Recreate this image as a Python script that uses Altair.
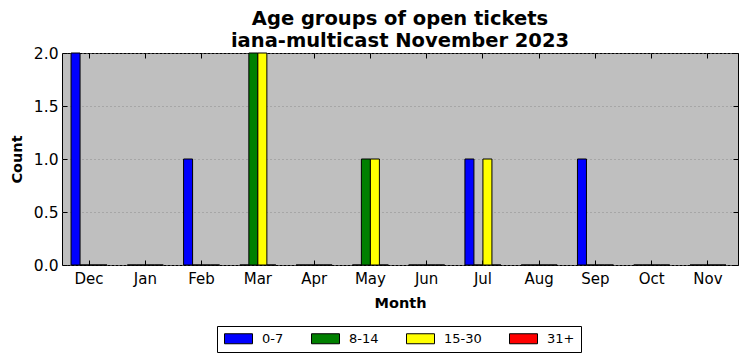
import altair as alt
import pandas as pd

months = ["Dec", "Jan", "Feb", "Mar", "Apr", "May", "Jun", "Jul", "Aug", "Sep", "Oct", "Nov"]
groups = ["0-7", "8-14", "15-30", "31+"]
colors = ["#0000ff", "#008000", "#ffff00", "#ff0000"]
age_0_7 = [2, 0, 1, 0, 0, 0, 0, 1, 0, 1, 0, 0]
age_8_14 = [0, 0, 0, 2, 0, 1, 0, 0, 0, 0, 0, 0]
age_15_30 = [0, 0, 0, 2, 0, 1, 0, 1, 0, 0, 0, 0]
age_31 = [0, 0, 0, 0, 0, 0, 0, 0, 0, 0, 0, 0]
y_ticks = [0.0, 0.5, 1.0, 1.5, 2.0]

rows = []
for g, vals in zip(groups, [age_0_7, age_8_14, age_15_30, age_31]):
    for m, v in zip(months, vals):
        rows.append({"month": m, "group": g, "count": v})
df = pd.DataFrame(rows)

FONT = "DejaVu Sans"
PLOT_H = 212

xscale = alt.Scale(domain=months, paddingInner=0.36, paddingOuter=0.187, align=0.43)
yscale = alt.Scale(domain=[0, 2], nice=False)

bars = alt.Chart(df).mark_bar(stroke="black", strokeWidth=1, opacity=1).encode(
    x=alt.X("month:N", sort=months, scale=xscale,
            axis=alt.Axis(title="Month", orient="bottom", offset=-5, domain=False,
                          tickSize=5, tickColor="black", labelAngle=0, labelPadding=6,
                          labelFontSize=15, labelColor="black", titleFontSize=14.5,
                          titleFontWeight="bold", titleColor="black", titlePadding=10,
                          grid=False)),
    xOffset=alt.XOffset("group:N", sort=groups, scale=alt.Scale(domain=groups, paddingInner=0, paddingOuter=0)),
    y=alt.Y("count:Q", scale=yscale,
            axis=alt.Axis(title="Count", orient="left", offset=-5, domain=False,
                          values=y_ticks, format=".1f",
                          tickSize=5, tickColor="black", labelPadding=4,
                          labelFontSize=15.5, labelColor="black", titleFontSize=14.5,
                          titleFontWeight="bold", titleColor="black", titlePadding=9,
                          grid=True, gridColor="#8c8c8c", gridDash=[1, 3], gridWidth=1)),
    color=alt.Color("group:N", sort=groups, scale=alt.Scale(domain=groups, range=colors),
                    legend=alt.Legend(title=None, orient="none", legendX=155, legendY=273,
                                      direction="horizontal", columns=4,
                                      symbolType="M-2.8,-1H2.8V1H-2.8Z", symbolSize=100,
                                      symbolOffset=9, labelOffset=17,
                                      symbolStrokeColor="black", symbolStrokeWidth=1,
                                      symbolOpacity=1, labelFontSize=13, labelColor="black",
                                      columnPadding=25, padding=6, strokeColor="black",
                                      fillColor="white", cornerRadius=0)),
)

frame = alt.Chart(df).mark_bar(opacity=0).encode(
    x=alt.X("month:N", sort=months, scale=xscale,
            axis=alt.Axis(title=None, orient="top", offset=-5, domain=False, labels=False,
                          tickSize=5, tickColor="black", grid=False)),
    y=alt.Y("count:Q", scale=yscale,
            axis=alt.Axis(title=None, orient="right", offset=-5, domain=False, labels=False,
                          values=y_ticks, tickSize=5, tickColor="black", grid=False)),
)

chart = alt.layer(bars, frame).resolve_axis(x="independent", y="independent").properties(
    width=676, height=PLOT_H,
    title=alt.TitleParams(["Age groups of open tickets", "iana-multicast November 2023"],
                          fontSize=19.5, fontWeight="bold", anchor="middle", lineHeight=22,
                          offset=2, dy=PLOT_H, color="black", font=FONT),
    autosize=alt.AutoSizeParams(type="none"),
    padding={"left": 54, "top": 45, "right": 1, "bottom": 88},
).configure(font=FONT).configure_view(fill="#bfbfbf", stroke="black", strokeWidth=1)

chart.save("out.html", embed_options={"renderer": "svg", "actions": False})
